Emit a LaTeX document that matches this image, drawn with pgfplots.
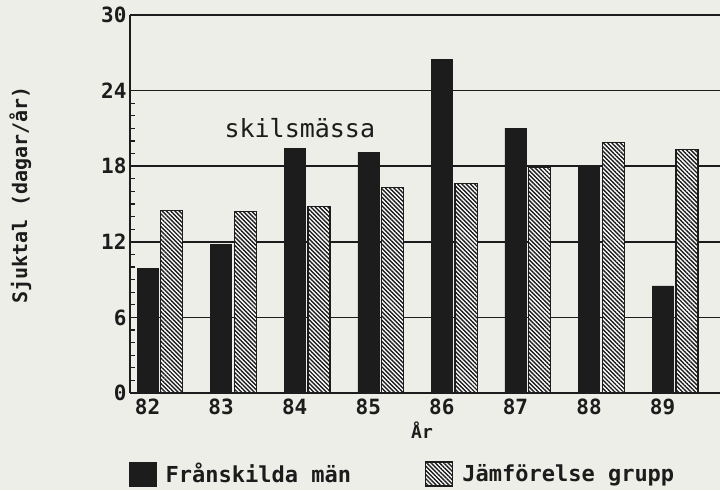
\documentclass[border=0pt]{standalone}
\usepackage{fontspec}
\setmonofont{DejaVu Sans Mono}
\usepackage{pgfplots}
\pgfplotsset{compat=1.18}
\usetikzlibrary{patterns.meta}
\definecolor{paper}{RGB}{238,238,233}
\definecolor{ink}{RGB}{28,28,28}
\pgfplotsset{
  sqlegend/.style={legend image code/.code={\draw[##1] (0pt,-12pt) rectangle (27pt,12pt);}},
}
\begin{document}
\begin{tikzpicture}
\fill[paper] (-130pt,-97pt) rectangle (590pt,393pt);
\begin{axis}[
  scale only axis, width=590pt, height=378pt,
  at={(0,0)}, anchor=south west,
  xmin=-0.238, xmax=7.78, ymin=0, ymax=30,
  axis x line*=bottom, axis y line*=left,
  axis line style={line width=2.5pt, ink, -},
  xtick={0,...,7}, xticklabels={82,83,84,85,86,87,88,89},
  major x tick style={draw=none},
  ytick={0,6,12,18,24}, yticklabels={0,6,12,18,24},
  extra y ticks={30}, extra y tick labels={30},
  extra y tick style={major grid style={line width=2.5pt, ink}},
  minor y tick num=5,
  tick align=inside,
  y tick style={line width=1.2pt, ink},
  major tick length=6pt, minor tick length=5pt,
  ymajorgrids, major grid style={line width=1.8pt, ink},
  ticklabel style={font=\fontsize{21}{21}\selectfont\ttfamily\bfseries, text=ink},
  xticklabel style={yshift=-2pt},
  xlabel={År},
  every axis x label/.style={at={(axis description cs:0.495,0)}, anchor=center, yshift=-37pt, font=\fontsize{18}{18}\selectfont\ttfamily\bfseries, text=ink},
  ylabel={Sjuktal (dagar/år)},
  every axis y label/.style={at={(axis description cs:-0.186,0.524)}, anchor=center, rotate=90, font=\fontsize{20}{20}\selectfont\ttfamily\bfseries, text=ink},
  legend columns=2,
  legend style={draw=none, fill=none, at={(0,0)}, anchor=north west, xshift=-4pt, yshift=-66pt,
    font=\fontsize{22}{22}\selectfont\ttfamily\bfseries, text=ink,
    /tikz/every odd column/.append style={column sep=7pt},
    /tikz/every even column/.append style={column sep=72pt}},
  clip=false,
]
\addplot[ybar, bar width=0.285, bar shift=0, fill=ink, draw=ink, sqlegend]
  coordinates {(0,9.9) (1,11.8) (2,19.4) (3,19.1) (4,26.5) (5,21.0) (6,18.0) (7,8.5)};
\addlegendentry{Frånskilda män}
\addplot[ybar, bar width=0.3, bar shift=0.33, draw=ink, line width=1.3pt,
  preaction={fill=white},
  pattern={Lines[angle=-45,distance=3pt,line width=1.4pt]}, pattern color=ink, sqlegend]
  coordinates {(0,14.5) (1,14.4) (2,14.8) (3,16.3) (4,16.6) (5,17.9) (6,19.9) (7,19.3)};
\addlegendentry{Jämförelse grupp}
\node[anchor=base, font=\fontsize{25}{25}\selectfont\ttfamily, text=ink] at (axis cs:2.07,20.24) {skilsmässa};
\end{axis}
\pgfresetboundingbox
\useasboundingbox (-130pt,-97pt) rectangle (590pt,393pt);
\end{tikzpicture}
\end{document}
